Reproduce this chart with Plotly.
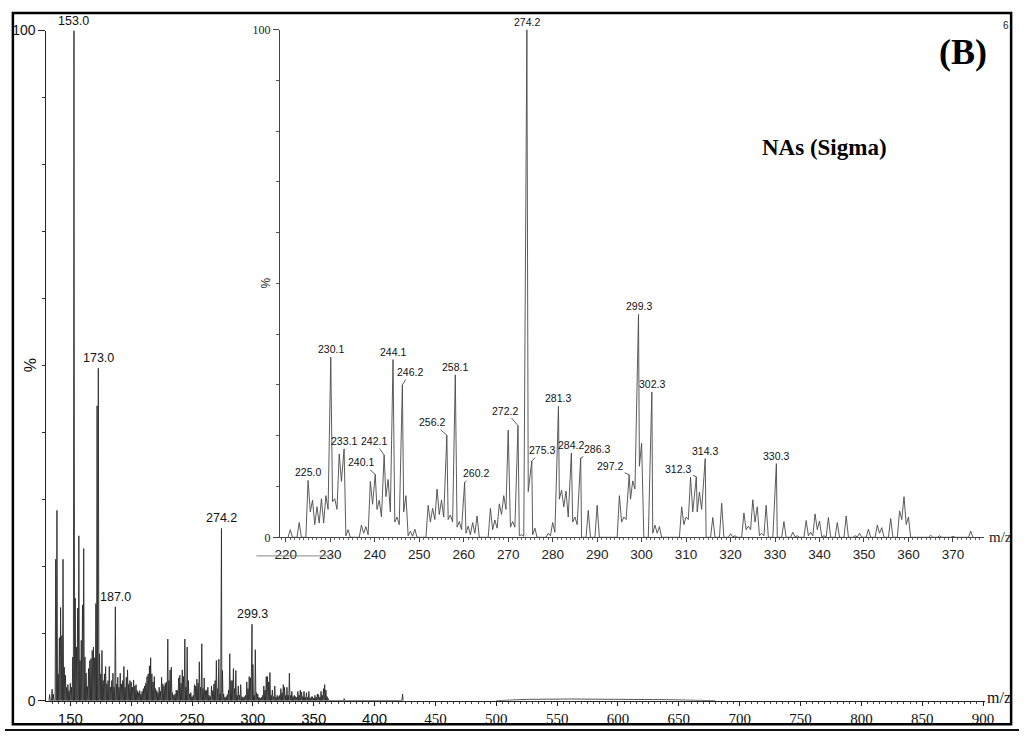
import plotly.graph_objects as go

# ---------------- full-scan spectrum: m/z and relative intensity (%) ----------------
main_mz = [133, 135, 136, 138, 139, 140, 141, 142, 143, 144,
           145, 146, 147, 148, 149, 150, 151, 152, 153.0, 154,
           155, 156, 157, 158, 159, 160, 161, 162, 163, 164,
           165, 166, 167, 168, 169, 170, 171, 172, 173.0, 174,
           175, 176, 177, 178, 179, 180, 181, 182, 183, 184,
           185, 186, 187.0, 188, 189, 190, 191, 192, 193, 194,
           195, 196, 197, 198, 199, 200, 201, 202, 203, 204,
           205, 206, 207, 208, 209, 210, 211, 212, 213, 214,
           215, 216, 217, 218, 219, 220, 221, 222, 223, 224,
           225, 226, 227, 228, 229, 230.1, 231, 232, 233, 234,
           235, 236, 237, 238, 239, 240, 241, 242, 243, 244.1,
           245, 246, 247, 248, 249, 250, 251, 252, 253, 254,
           255, 256, 257, 258, 259, 260, 261, 262, 263, 264,
           265, 266, 267, 268, 269, 270, 271, 272, 273, 274.2,
           275, 276, 277, 278, 279, 280, 281, 282, 283, 284,
           285, 286, 287, 288, 289, 290, 291, 292, 293, 294,
           295, 296, 297, 298, 299.3, 300, 301, 302, 303, 304,
           305, 306, 307, 308, 309, 310, 311, 312, 313, 314,
           315, 316, 317, 318, 319, 320, 321, 322, 323, 324,
           325, 326, 327, 328, 329, 330, 331, 332, 333, 334,
           335, 336, 337, 338, 339, 340, 341, 342, 343, 344,
           345, 346, 347, 348, 349, 350, 351, 352, 353, 354,
           355, 356, 357, 358, 359, 360, 361, 362, 375, 423]
main_pct = [0.9, 1.7, 1.0, 21.1, 28.4, 4.0, 9.4, 13.9, 9.7, 21.1,
            5.0, 3.8, 2.0, 2.4, 1.5, 2.6, 2.0, 6.5, 100.0, 15.3,
            8.0, 13.8, 24.6, 6.0, 9.0, 14.3, 22.7, 6.5, 4.1, 2.1,
            4.8, 6.0, 6.3, 7.5, 8.0, 6.4, 14.5, 44.0, 49.6, 7.0,
            4.0, 7.5, 3.0, 4.0, 5.1, 2.5, 3.0, 5.1, 2.0, 3.0,
            4.1, 2.0, 14.0, 2.5, 3.5, 2.0, 4.1, 2.5, 3.0, 5.1,
            2.0, 3.5, 4.6, 2.5, 3.0, 2.8, 2.0, 3.1, 2.2, 2.4,
            1.5, 1.2, 1.5, 1.0, 1.4, 1.8, 2.2, 2.6, 3.6, 4.0,
            5.2, 6.4, 4.0, 2.8, 3.6, 1.8, 1.5, 1.2, 2.0, 1.4,
            3.5, 2.5, 2.2, 2.6, 2.8, 9.2, 3.0, 4.6, 5.0, 1.2,
            0.8, 1.0, 1.6, 1.5, 3.4, 3.8, 2.6, 4.6, 3.6, 9.2,
            2.0, 8.0, 3.0, 1.0, 1.2, 0.6, 0.8, 2.4, 2.2, 3.2,
            2.6, 5.8, 2.0, 8.5, 1.8, 3.4, 1.5, 1.6, 2.0, 0.8,
            0.6, 2.2, 1.5, 2.5, 3.0, 6.0, 1.8, 6.2, 1.0, 25.7,
            4.5, 1.0, 0.5, 0.6, 0.9, 1.6, 7.0, 3.0, 3.0, 4.8,
            1.8, 4.5, 0.8, 2.2, 0.8, 2.4, 0.6, 0.5, 0.6, 0.8,
            2.8, 1.8, 3.6, 3.4, 11.4, 5.4, 0.8, 7.6, 1.2, 1.0,
            0.5, 0.4, 0.5, 0.8, 2.2, 1.6, 3.6, 3.6, 2.8, 4.2,
            0.8, 1.6, 0.6, 2.2, 0.5, 0.8, 0.6, 0.8, 1.8, 1.2,
            2.4, 2.0, 0.8, 2.0, 0.8, 4.1, 0.8, 1.4, 0.6, 0.8,
            0.6, 0.5, 1.4, 0.8, 1.6, 1.3, 0.6, 1.4, 0.5, 1.2,
            0.5, 1.4, 0.4, 0.6, 0.6, 0.4, 0.8, 0.5, 1.0, 0.9,
            0.5, 1.4, 0.8, 1.8, 2.4, 1.6, 0.6, 0.3, 0.3, 1.0]

# slight baseline rise at high mass
hump_mz = [500, 525, 560, 600, 640, 680]
hump_pct = [0.0, 0.2, 0.25, 0.25, 0.15, 0.0]

main_labels = [153.0, 173.0, 187.0, 274.2, 299.3]

# ---------------- zoomed spectrum 220-375 (inset) ----------------
inset_mz = [221, 223, 225.0, 226, 227, 228, 229, 230.1, 231, 232, 233.1, 234,
            237, 238, 239, 240.1, 241, 242.1, 243, 244.1, 245, 246.2, 247, 248, 249,
            252, 253, 254, 255, 256.2, 257, 258.1, 259, 260.2, 261, 262, 263,
            266, 267, 268, 269, 270, 271, 272.2, 273, 274.2, 275.3, 276,
            279, 280, 281.3, 282, 283, 284.2, 285, 286.3, 288, 290,
            295, 296, 297.2, 298, 299.3, 300, 302.3, 303, 304,
            309, 310, 311, 312.3, 313, 314.3, 316, 318, 320, 321,
            323, 324, 325, 326, 327, 328, 330.3, 332, 334, 335,
            337, 338, 339, 340, 341, 342, 344, 346, 348, 349, 351, 353, 354, 356,
            358, 359, 360, 365, 367, 370, 374]
inset_pct = [1.5, 2.9, 11.2, 7.3, 6.0, 7.6, 8.2, 35.5, 7.6, 16.4, 17.4, 1.5,
             2.4, 2.1, 11.0, 12.4, 7.3, 16.2, 11.4, 35.0, 4.0, 30.0, 8.2, 1.2, 1.6,
             6.3, 5.7, 9.5, 7.3, 20.1, 4.4, 32.0, 3.1, 10.8, 2.2, 2.9, 4.2,
             5.7, 3.4, 6.6, 8.2, 21.1, 3.1, 22.0, 0.5, 100.0, 15.0, 1.8,
             0.8, 2.9, 25.8, 9.3, 9.1, 16.6, 4.0, 15.6, 5.3, 6.3,
             8.2, 4.0, 12.3, 11.1, 43.9, 18.5, 28.6, 2.4, 2.1,
             6.0, 4.0, 11.8, 11.9, 8.9, 15.5, 3.9, 6.7, 0.7, 0.3,
             4.8, 2.2, 7.4, 6.0, 0.8, 6.3, 14.5, 3.1, 1.0, 0.3,
             3.3, 1.0, 4.6, 3.2, 0.3, 3.9, 2.9, 4.2, 0.3, 0.8, 1.6, 2.4, 1.9, 3.7,
             5.2, 8.0, 4.0, 0.4, 0.3, 0.2, 1.2]
# level of the valley after each peak (used only when the next peak is one unit away)
inset_valley = [0, 0, 5.0, 2.5, 2.8, 2.8, 5.5, 7.0, 5.5, 11.0, 0.3, 0,
                0.8, 0.5, 6.5, 5.5, 4.0, 8.0, 5.0, 3.0, 2.5, 5.0, 0.3, 0.2, 0,
                3.0, 3.5, 4.5, 4.0, 3.5, 3.0, 2.0, 1.5, 0.8, 0.5, 0.8, 0,
                1.5, 1.8, 4.5, 5.5, 2.0, 2.0, 0.3, 0.2, 9.0, 0.5, 0,
                0.3, 1.0, 7.5, 6.0, 4.0, 3.0, 2.5, 0, 0, 0,
                3.0, 3.5, 7.5, 9.5, 14.0, 0, 0.8, 0.8, 0,
                2.5, 3.5, 5.0, 5.0, 5.5, 0, 0, 0, 0.1, 0,
                1.5, 1.5, 3.0, 0.3, 0.3, 0, 0, 0, 0.1, 0,
                0.3, 0.3, 1.5, 0.1, 0.1, 0, 0, 0, 0.1, 0, 0, 0.8, 0, 0,
                3.5, 2.5, 0, 0, 0, 0, 0]

inset_labels = [225.0, 230.1, 233.1, 240.1, 242.1, 244.1, 246.2, 256.2, 258.1,
                260.2, 272.2, 274.2, 275.3, 281.3, 284.2, 286.3, 297.2, 299.3,
                302.3, 312.3, 314.3, 330.3]
# labels that sit beside their peak with a short leader line: (dx, dy) in px
leader_offsets = {240.1: (-14, -12), 242.1: (-10, -14), 246.2: (8, -13),
                  256.2: (-15, -13), 260.2: (11, -9), 272.2: (-13, -15),
                  275.3: (10, -11), 286.3: (16, -9), 297.2: (-19, -9),
                  312.3: (-18, -8)}

if not (len(main_mz) == len(main_pct) and
        len(inset_mz) == len(inset_pct) == len(inset_valley)):
    raise ValueError("array lengths differ")


def profile(mz, pct, valley=None):
    """Polyline of narrow peaks, one unit wide at the base."""
    xs, ys = [], []
    n = len(mz)
    for i in range(n):
        c = round(mz[i])
        if i == 0 or round(mz[i - 1]) != c - 1:
            xs.append(c - 0.5)
            ys.append(0.0)
        xs.append(mz[i])
        ys.append(pct[i])
        nxt = i + 1 < n and round(mz[i + 1]) == c + 1
        xs.append(c + 0.5)
        ys.append(valley[i] if (valley and nxt) else 0.0)
    return xs, ys


W, H = 1029, 740


def px(x):
    return x / W


def py(y):
    return 1 - y / H


fig = go.Figure()

mx, my = profile(main_mz, main_pct)
fig.add_trace(go.Scatter(x=mx, y=my, mode="lines", xaxis="x", yaxis="y",
                         line=dict(color="#2b2b2b", width=0.9), hoverinfo="skip"))
fig.add_trace(go.Scatter(x=hump_mz, y=hump_pct, mode="lines", xaxis="x", yaxis="y",
                         line=dict(color="#555", width=1), hoverinfo="skip"))

ix, iy = profile(inset_mz, inset_pct, inset_valley)
fig.add_trace(go.Scatter(x=ix, y=iy, mode="lines", xaxis="x2", yaxis="y2",
                         line=dict(color="#4a4a4a", width=0.9), hoverinfo="skip"))

SANS = "Liberation Sans, Arial, sans-serif"
SERIF = "Liberation Serif, Times New Roman, serif"

# main axes
main_ticks = list(range(150, 901, 50))
main_ticktext = [str(v) if v <= 400 else
                 f'<span style="font-family:Liberation Serif">{v}</span>'
                 for v in main_ticks]
fig.update_layout(
    xaxis=dict(domain=[px(42), px(994)], range=[130.33, 901.17], anchor="y",
               showgrid=False, zeroline=False, showline=True, linecolor="#222",
               linewidth=1, ticks="outside", ticklen=4, tickcolor="#222",
               tickvals=main_ticks, ticktext=main_ticktext,
               tickfont=dict(family=SANS, size=15, color="#111"),
               minor=dict(tickvals=list(range(135, 901, 5)), ticks="outside",
                          ticklen=2, tickcolor="#444")),
    yaxis=dict(domain=[py(708), py(23)], range=[0, 100], anchor="x",
               showgrid=False, zeroline=False, showline=True, linecolor="#222",
               linewidth=1, ticks="outside", ticklen=7, tickcolor="#222",
               tickvals=[0, 50, 100], ticktext=["0", "", "100"],
               tickfont=dict(family=SANS, size=14, color="#111"),
               minor=dict(tickvals=list(range(10, 100, 10)), ticks="outside",
                          ticklen=3, tickcolor="#333")),
    xaxis2=dict(domain=[px(279), px(993)], range=[218.67, 376.88], anchor="y2",
                showgrid=False, zeroline=False, showline=True, linecolor="#444",
                linewidth=1, ticks="outside", ticklen=4, tickcolor="#444",
                tickvals=list(range(220, 371, 10)),
                tickfont=dict(family=SANS, size=13.5, color="#222"),
                minor=dict(tickvals=list(range(219, 377, 1)), ticks="outside",
                           ticklen=2, tickcolor="#666")),
    yaxis2=dict(domain=[py(541), py(22)], range=[0, 100], anchor="x2",
                showgrid=False, zeroline=False, showline=True, linecolor="#444",
                linewidth=1, ticks="outside", ticklen=6, tickcolor="#444",
                tickvals=[0, 50, 100], ticktext=["0", "", "100"],
                tickfont=dict(family=SERIF, size=12, color="#222"),
                minor=dict(tickvals=list(range(10, 100, 10)), ticks="outside",
                           ticklen=3, tickcolor="#555")),
)

ann = []
# peak labels, full scan
for m in main_labels:
    h = main_pct[main_mz.index(m)]
    ann.append(dict(x=m, y=h, xref="x", yref="y", text=f"{m:.1f}", showarrow=False,
                    yanchor="bottom", xanchor="center", yshift=1,
                    font=dict(family=SANS, size=12.5, color="#111")))
# peak labels, inset
for m in inset_labels:
    h = inset_pct[inset_mz.index(m)]
    if m in leader_offsets:
        dx, dy = leader_offsets[m]
        ann.append(dict(x=m, y=h, xref="x2", yref="y2", text=f"{m:.1f}",
                        showarrow=True, arrowhead=0, arrowwidth=0.8,
                        arrowcolor="#333", ax=dx, ay=dy, standoff=0,
                        font=dict(family=SANS, size=10.5, color="#111")))
    else:
        ann.append(dict(x=m, y=h, xref="x2", yref="y2", text=f"{m:.1f}",
                        showarrow=False, yanchor="bottom", xanchor="center",
                        font=dict(family=SANS, size=10.5, color="#111")))


def label(x, y, text, size, family, color="#111", **kw):
    return dict(x=px(x), y=py(y), xref="paper", yref="paper", text=text,
                showarrow=False, xanchor=kw.pop("xanchor", "center"),
                yanchor="middle", font=dict(family=family, size=size, color=color), **kw)


# axis titles and panel text
ann += [
    dict(x=px(26), y=50, xref="paper", yref="y", text="%", textangle=-90,
         xanchor="center", yanchor="middle", showarrow=False,
         font=dict(family=SANS, size=16, color="#111")),
    dict(x=px(265), y=50, xref="paper", yref="y2", text="%", textangle=-90,
         xanchor="center", yanchor="middle", showarrow=False,
         font=dict(family=SANS, size=12, color="#222")),
    label(995, 705, "m/z", 16, SERIF, xanchor="left"),
    label(997, 541, "m/z", 15, SERIF, "#222", xanchor="left"),
    label(972, 45, "<b>(B)</b>", 36, SERIF, "#000"),
    label(832, 143, "<b>NAs (Sigma)</b>", 23, SERIF, "#000"),
    label(1016, 18, "6", 10, SANS, "#222"),
]

shapes = [
    # outer frame
    dict(type="rect", xref="paper", yref="paper", x0=px(8), x1=px(1021),
         y0=py(732), y1=py(5), line=dict(color="#000", width=2.5)),
    # rule under the frame
    dict(type="line", xref="paper", yref="paper", x0=0, x1=1, y0=py(738), y1=py(738),
         line=dict(color="#111", width=2)),
    # lower edge of the inset panel
    dict(type="line", xref="paper", yref="paper", x0=px(255), x1=px(330),
         y0=py(560), y1=py(560), line=dict(color="#888", width=1)),
]

fig.update_layout(width=W, height=H, margin=dict(l=0, r=0, t=0, b=0),
                  paper_bgcolor="white", plot_bgcolor="rgba(0,0,0,0)",
                  showlegend=False, annotations=ann, shapes=shapes)

fig.write_html("out.html", config={"displayModeBar": False},
               post_script="document.body.style.margin='0px';"
                           "document.body.style.overflow='hidden';")
